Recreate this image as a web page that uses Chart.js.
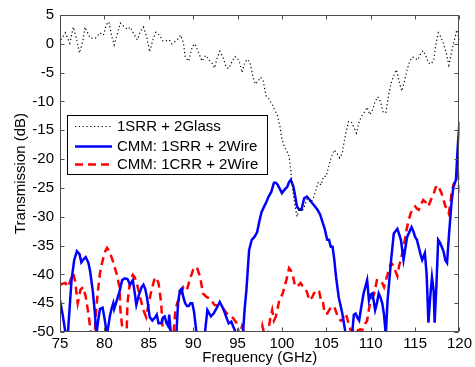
<!DOCTYPE html>
<html>
<head>
<meta charset="utf-8">
<script src="https://cdn.jsdelivr.net/npm/chart.js@4"></script>
<style>
  html, body { margin: 0; padding: 0; background: #fff; }
  #wrap { width: 475px; height: 367px; }
</style>
</head>
<body>
<div id="wrap"><canvas id="ch"></canvas></div>
<script>
// ── Data (GHz, dB) ──────────────────────────────────────────────────────────
const glassFreq = [75.1, 75.6, 76.1, 76.5, 76.8, 77.2, 77.6, 77.8, 78.4, 79, 79.5, 79.9, 80.2, 80.5, 80.8, 81.1, 81.5, 81.8, 82.2, 82.6,
  82.9, 83.4, 83.7, 84.1, 84.4, 84.8, 85.1, 85.5, 85.8, 86.2, 86.6, 86.9, 87.3, 87.6, 88.2, 88.6, 88.9, 89.1, 89.5, 89.9,
  90.2, 90.6, 91, 91.4, 91.8, 92.2, 92.4, 92.7, 93, 93.4, 93.7, 94, 94.4, 94.7, 95, 95.3, 95.5, 95.8, 96.1, 96.4,
  96.7, 97, 97.3, 97.6, 97.9, 98.2, 98.5, 98.9, 99.2, 99.5, 99.8, 100, 100.3, 100.6, 100.8, 101, 101.2, 101.4, 101.7, 102,
  102.3, 102.6, 102.9, 103.2, 103.5, 103.8, 104.1, 104.4, 104.7, 105, 105.3, 105.6, 105.9, 106.2, 106.5, 106.8, 107, 107.2, 107.5, 107.8,
  108.1, 108.4, 108.7, 109, 109.3, 109.6, 109.9, 110.2, 110.5, 110.8, 111.1, 111.4, 111.7, 112, 112.3, 112.6, 112.9, 113.2, 113.5, 113.8,
  114.1, 114.4, 114.7, 115, 115.3, 115.6, 115.9, 116.2, 116.5, 116.8, 117.1, 117.3, 117.6, 117.9, 118.2, 118.5, 118.8, 119.1, 119.4, 119.7, 120];
const glassDb = [0.7, 1.9, 0.1, 2.9, 1.2, -1.6, 0.7, 2.9, 1, 1, 1.9, 1.5, 3.3, 3.8, 1.5, -0.2, 2, 3.6, 3, 2.5,
  2.9, 1.5, 0.7, 2.3, 2.9, 1, -1.4, 0.9, 2, 1.5, 0.5, 0.5, 0.7, 0, 0.7, 1.5, 0.2, -2.3, -3, -0.5,
  0, -1.5, -3, -2, -2.8, -3.5, -4.2, -2.5, -1.3, -2.5, -4, -4.3, -3, -2.2, -2.5, -3.5, -5, -3.3, -2.7, -3.2,
  -5.5, -7, -6.5, -5.8, -6.5, -9, -9.5, -10.5, -11.5, -12.5, -14.5, -16.5, -18, -18.8, -19.5, -22, -25, -27.5, -30, -28.5,
  -29, -28, -26.5, -27.5, -27, -25.5, -24, -24.5, -23, -23, -21, -19.5, -18.4, -19, -19.8, -19, -17, -15.5, -13.5, -13.5,
  -14.5, -15.5, -13.5, -12.5, -11.8, -11, -12.3, -11.5, -10, -9.2, -10, -11.8, -12, -9, -6.8, -5.5, -4.5, -6.5, -8.2, -6.5,
  -4.5, -3, -2.3, -2.5, -2.8, -1.8, -1.2, -2, -3.3, -3.5, -2.8, -0.5, 1.9, 1.2, 0, -1.5, -3.7, -1.5, 0.5, 2.4, 0.5];

const srrFreq = [75, 75.3, 75.6, 75.75, 75.9, 76.3, 76.6, 76.9, 77.2, 77.4, 77.7, 77.9, 78.2, 78.4, 78.7, 78.9, 79.1, 79.3, 79.5, 79.8,
  80, 80.3, 80.6, 80.8, 81, 81.1, 81.4, 81.7, 82, 82.3, 82.6, 82.9, 83.2, 83.4, 83.6, 83.9, 84.2, 84.4, 84.6, 84.8,
  85.1, 85.4, 85.7, 85.9, 86.1, 86.4, 86.6, 86.8, 87, 87.2, 87.3, 87.5, 87.8, 88.1, 88.3, 88.5, 88.7, 88.9, 89.1, 89.3,
  89.5, 89.7, 89.9, 90.1, 90.4, 90.8, 91.3, 91.6, 92, 92.3, 92.6, 93, 93.4, 93.7, 94, 94.3, 94.5, 94.9, 95.2, 95.6,
  95.8, 96, 96.3, 96.6, 96.9, 97.2, 97.5, 97.7, 98, 98.2, 98.5, 98.8, 99.1, 99.3, 99.5, 99.8, 100, 100.3, 100.6, 100.8,
  101, 101.3, 101.5, 101.7, 102, 102.2, 102.5, 102.8, 103.1, 103.4, 103.7, 104, 104.3, 104.5, 104.8, 105.1, 105.3, 105.5, 105.7, 105.9,
  106.1, 106.4, 106.8, 107.2, 107.6, 107.9, 108.1, 108.3, 108.5, 108.7, 108.9, 109.2, 109.6, 109.8, 110, 110.2, 110.5, 110.7, 110.9, 111.1,
  111.3, 111.5, 111.7, 111.9, 112.1, 112.3, 112.6, 113, 113.2, 113.4, 113.7, 113.9, 114.1, 114.4, 114.6, 114.8, 115, 115.2, 115.4, 115.6,
  115.8, 116.1, 116.3, 116.5, 116.7, 116.9, 117.1, 117.2, 117.4, 117.6, 117.8, 118, 118.2, 118.4, 118.6, 118.8, 119.1, 119.3, 119.6, 119.8, 120];
const srrDb = [-44.5, -47, -50, -53, -50, -41, -37.5, -36, -36.5, -37.9, -37.3, -37, -38, -39.5, -43, -46.2, -50.5, -48, -46, -45.8,
  -47.5, -50.5, -47.4, -46, -45, -46, -44.5, -43, -41, -40.7, -40.8, -41.8, -41, -43, -45.3, -43.5, -42.2, -41.8, -42.5, -44,
  -47.4, -48, -47.5, -47, -48.5, -48.5, -47.5, -47.3, -48.5, -49, -47, -50.5, -53, -50.5, -45, -42.8, -42.5, -44, -45, -45.5,
  -45.5, -45, -45, -46.5, -50.5, -54, -50.5, -46.2, -47.3, -46.8, -46, -44.8, -46, -47.3, -48.5, -48.2, -49, -50.5, -53, -50.5,
  -46, -42.7, -35.8, -34, -33.5, -32.7, -30.5, -29.2, -28.2, -27.6, -26.5, -25.7, -24.1, -24.1, -24.4, -25.3, -25.9, -25.3, -24.8, -24,
  -23.6, -24.8, -26.5, -28.3, -28.8, -28.8, -26.8, -26.5, -27, -27.6, -28.2, -28.8, -29.6, -30.6, -32, -34, -34, -35.2, -35.2, -37.5,
  -40.5, -44, -46.8, -50.5, -53, -50.5, -47, -46.8, -47.5, -48, -46, -43.3, -41, -44.5, -43.5, -43.3, -46.2, -45, -43.3, -44,
  -45, -47, -50.5, -44.5, -41, -37.5, -32.9, -32.1, -33, -34, -37.5, -35.5, -33.5, -32.5, -31.8, -32.5, -33.5, -34, -35.2, -36.5,
  -37.5, -36.3, -40, -48.4, -44, -40.5, -43, -48.4, -42, -34, -34.5, -35.2, -36, -37.5, -38, -33.5, -27.6, -25, -23.6, -18, -13.5];

const crrFreq = [75, 75.3, 75.6, 75.9, 76.3, 76.5, 76.7, 77, 77.3, 77.6, 77.9, 78.2, 78.5, 78.7, 78.9, 79.1, 79.3, 79.5, 79.7, 79.9,
  80.1, 80.3, 80.6, 80.8, 81, 81.2, 81.4, 81.7, 81.8, 82.1, 82.3, 82.5, 82.6, 82.9, 83.2, 83.4, 83.6, 83.8, 84, 84.2,
  84.4, 84.7, 85, 85.2, 85.4, 85.7, 85.9, 86.1, 86.4, 86.6, 87, 87.6, 88, 88.2, 88.5, 88.9, 89.3, 89.6, 90, 90.4,
  90.8, 91.1, 91.5, 91.9, 92.4, 93, 93.4, 93.8, 94.2, 94.5, 94.9, 95.2, 95.5, 95.8, 96.2, 97.5, 97.8, 98.1, 98.4, 98.7,
  98.9, 99.1, 99.3, 99.5, 99.7, 100.1, 100.3, 100.5, 100.8, 101, 101.2, 101.4, 101.6, 101.8, 102.1, 102.3, 102.5, 102.8, 103.1, 103.4,
  103.6, 103.8, 104, 104.2, 104.4, 104.6, 104.8, 105.1, 105.4, 105.6, 105.9, 106.1, 106.3, 106.6, 106.8, 107, 107.2, 107.5, 107.8, 108.1,
  108.4, 108.7, 108.9, 109.1, 109.4, 109.6, 109.8, 110, 110.2, 110.4, 110.7, 110.9, 111.1, 111.3, 111.5, 111.8, 112, 112.3, 112.6, 112.8,
  113, 113.2, 113.4, 113.7, 114.1, 114.3, 114.5, 114.8, 115, 115.2, 115.4, 115.7, 115.9, 116.2, 116.5, 116.8, 117.1, 117.3, 117.5, 117.8,
  118, 118.2, 118.4, 118.6, 118.8, 119, 119.1, 119.3, 119.6, 119.8, 120];
const crrDb = [-41.8, -41.6, -41.5, -42.2, -40.5, -39.8, -41.2, -45, -42.7, -42.2, -43.9, -46.8, -50.5, -53, -50.5, -45.6, -42.5, -39.8, -38.3, -37,
  -36, -35.4, -36, -37, -37.9, -39, -40, -42.2, -46.2, -50.5, -53, -50.5, -45, -41, -40.1, -40.5, -41.2, -42.5, -43.9, -45,
  -46.2, -47.4, -45, -43.5, -42.2, -40.5, -40.8, -41.5, -45, -50.5, -54, -54, -46.2, -45, -43.9, -42.2, -42.7, -41, -39.2, -38.7,
  -40.5, -43.3, -43.9, -44.2, -45.3, -45.5, -46, -46.8, -47.2, -47.6, -48.5, -50.5, -49, -50.5, -54, -52, -49, -51, -50.5, -47.5,
  -46.2, -48, -47.4, -46, -44.5, -43.3, -42, -41, -38.9, -39.3, -40, -41.5, -42.2, -42, -41.5, -42, -42.2, -43, -44.5, -44,
  -43.3, -43, -42.7, -43, -44.5, -44.5, -46.8, -46.8, -46, -45.6, -45.6, -46.5, -47.4, -48, -48, -47, -46.8, -48.5, -50, -49.5,
  -50.5, -49, -50, -49.5, -48.5, -48, -46, -44.5, -44, -43.3, -41, -41, -41, -41.5, -42.2, -40.5, -39.5, -38, -38.6, -39.5,
  -40.3, -38.5, -37.5, -35.2, -31.8, -30.5, -29.4, -28.5, -28.2, -28.6, -28.8, -27.8, -27.1, -27.5, -28.2, -27, -26, -25, -24.5, -25.3,
  -26, -27, -28.2, -28.5, -29.4, -27.5, -26, -24.5, -23.6, -21.5, -26];

const seriesLabels = ['1SRR + 2Glass', 'CMM: 1SRR + 2Wire', 'CMM: 1CRR + 2Wire'];
const xTicks = [75, 80, 85, 90, 95, 100, 105, 110, 115, 120];
const yTicks = [5, 0, -5, -10, -15, -20, -25, -30, -35, -40, -45, -50];

function toPoints(xs, ys) {
  return xs.map(function(x, i) { return { x: x, y: ys[i] }; });
}

const FONT = 'Liberation Sans, Arial, Helvetica, sans-serif';

// ── Box around the axes with inward tick marks (MATLAB style) ──────────────
const frame = {
  id: 'frame',
  afterDatasetsDraw(chart) {
    const { ctx, chartArea: a, scales } = chart;
    const L = Math.round(a.left) + 0.5, R = Math.round(a.right) - 0.5;
    const T = Math.round(a.top) + 0.5, B = Math.round(a.bottom) - 0.5;
    ctx.save();
    ctx.strokeStyle = '#4d4d4d';
    ctx.lineWidth = 1;
    ctx.strokeRect(L, T, R - L, B - T);
    ctx.beginPath();
    xTicks.forEach(function(v) {
      const px = Math.round(scales.x.getPixelForValue(v)) + 0.5;
      ctx.moveTo(px, B); ctx.lineTo(px, B - 4);
      ctx.moveTo(px, T); ctx.lineTo(px, T + 4);
    });
    yTicks.forEach(function(v) {
      const py = Math.round(scales.y.getPixelForValue(v)) + 0.5;
      ctx.moveTo(L, py); ctx.lineTo(L + 4, py);
      ctx.moveTo(R, py); ctx.lineTo(R - 4, py);
    });
    ctx.stroke();
    ctx.restore();
  }
};

// ── Legend box inside the plot, top-left-ish ───────────────────────────────
const boxLegend = {
  id: 'boxLegend',
  afterDraw(chart) {
    const { ctx } = chart;
    const bx = 67.5, by = 115.5, bw = 200, bh = 59;
    ctx.save();
    ctx.fillStyle = '#fff';
    ctx.fillRect(bx, by, bw, bh);
    ctx.strokeStyle = '#000';
    ctx.lineWidth = 1;
    ctx.strokeRect(bx, by, bw, bh);
    const rows = [126, 146, 164];
    chart.data.datasets.forEach(function(ds, i) {
      const y = rows[i];
      ctx.beginPath();
      ctx.strokeStyle = ds.borderColor;
      ctx.lineWidth = ds.borderWidth;
      ctx.setLineDash(ds.borderDash || []);
      ctx.moveTo(75, y + 0.5);
      ctx.lineTo(112, y + 0.5);
      ctx.stroke();
      ctx.setLineDash([]);
      ctx.fillStyle = '#000';
      ctx.font = '15px ' + FONT;
      ctx.textBaseline = 'middle';
      ctx.textAlign = 'left';
      ctx.fillText(ds.label, 117, y + 1);
    });
    ctx.restore();
  }
};

new Chart(document.getElementById('ch'), {
  type: 'line',
  data: {
    datasets: [
      { label: seriesLabels[0], data: toPoints(glassFreq, glassDb), borderColor: '#000000', borderWidth: 1.2, borderDash: [1.2, 2.6] },
      { label: seriesLabels[1], data: toPoints(srrFreq, srrDb), borderColor: '#0000ff', borderWidth: 2.5 },
      { label: seriesLabels[2], data: toPoints(crrFreq, crrDb), borderColor: '#ff0000', borderWidth: 2.5, borderDash: [8, 5] }
    ].map(function(ds) {
      return Object.assign({ pointRadius: 0, tension: 0, fill: false, clip: 0 }, ds);
    })
  },
  options: {
    responsive: true,
    maintainAspectRatio: false,
    animation: false,
    devicePixelRatio: 1,
    layout: { padding: { top: 15, right: 14, left: 0, bottom: 0 } },
    plugins: { legend: { display: false }, tooltip: { enabled: false } },
    scales: {
      x: {
        type: 'linear',
        min: 75, max: 120,
        afterFit: function(s) { s.height = 35; },
        afterBuildTicks: function(s) { s.ticks = xTicks.map(function(v) { return { value: v }; }); },
        grid: { display: false, drawTicks: false },
        border: { display: false },
        ticks: { padding: 3, color: '#000', font: { family: FONT, size: 15 }, maxRotation: 0 },
        title: { display: true, text: 'Frequency (GHz)', color: '#000', font: { family: FONT, size: 15 }, padding: { top: 0, bottom: 0 } }
      },
      y: {
        type: 'linear',
        min: -50, max: 5,
        afterFit: function(s) { s.width = 60; },
        afterBuildTicks: function(s) { s.ticks = yTicks.map(function(v) { return { value: v }; }); },
        grid: { display: false, drawTicks: false },
        border: { display: false },
        ticks: { padding: 6, color: '#000', font: { family: FONT, size: 15 } },
        title: { display: true, text: 'Transmission (dB)', color: '#000', font: { family: FONT, size: 15 }, padding: { top: 12, bottom: 0 } }
      }
    }
  },
  plugins: [frame, boxLegend]
});
</script>
</body>
</html>
